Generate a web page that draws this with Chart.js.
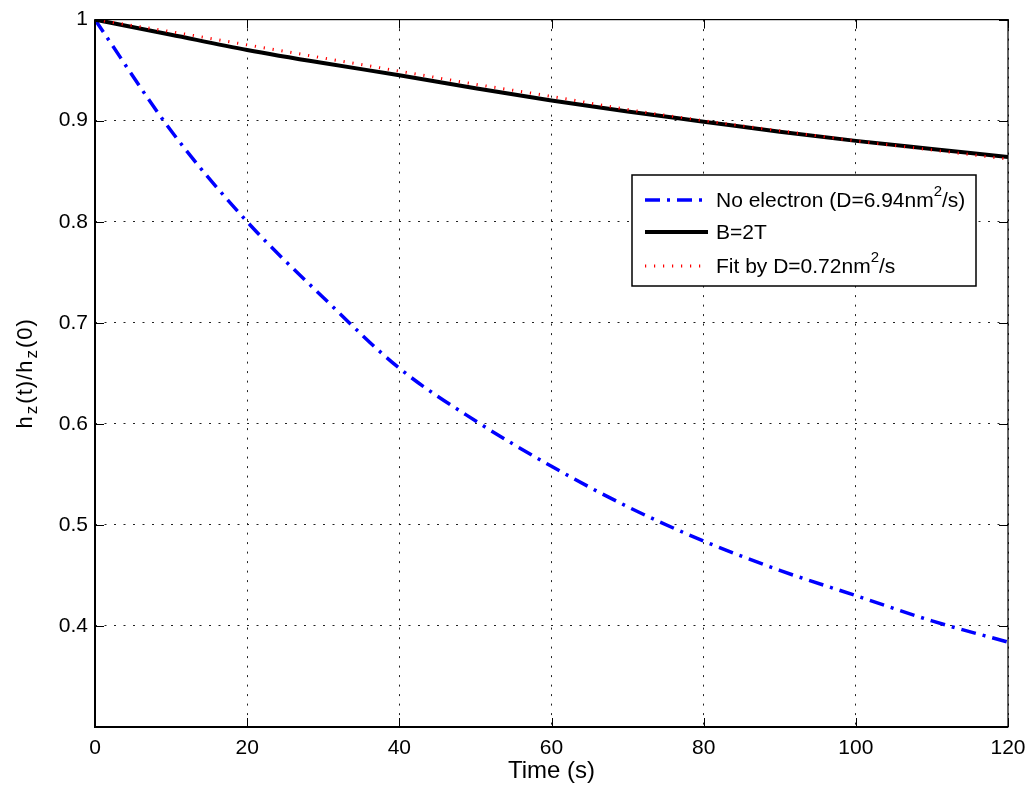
<!DOCTYPE html>
<html>
<head>
<meta charset="utf-8">
<script src="https://cdn.jsdelivr.net/npm/chart.js@4/dist/chart.umd.min.js"></script>
<style>
  html, body { margin: 0; padding: 0; background: #fff; }
  #wrap { width: 1036px; height: 787px; }
</style>
</head>
<body>
<div id="wrap"><canvas id="c" width="1036" height="787"></canvas></div>
<script>
// ---- data ----
const times      = [0, 10, 20, 30, 40, 50, 60, 70, 80, 90, 100, 110, 120];
const noElectron = [1.000, 0.890, 0.800, 0.725, 0.655, 0.603, 0.558, 0.518, 0.484, 0.455, 0.430, 0.405, 0.384];
const b2T        = [1.000, 0.985, 0.970, 0.957, 0.945, 0.932, 0.920, 0.909, 0.899, 0.889, 0.880, 0.872, 0.864];
const fitD       = [1.000, 0.988, 0.975, 0.962, 0.949, 0.936, 0.924, 0.911, 0.900, 0.890, 0.880, 0.871, 0.862];
const seriesLabels = ['No electron (D=6.94nm^2/s)', 'B=2T', 'Fit by D=0.72nm^2/s'];
const xTickValues = [0, 20, 40, 60, 80, 100, 120];
const yTickValues = [0.4, 0.5, 0.6, 0.7, 0.8, 0.9, 1.0];
const xTitle = 'Time (s)';
const yTitleParts = [['h',''], ['z','sub'], ['(t)/h',''], ['z','sub'], ['(0)','']];

const FONT = '"Liberation Sans", Arial, Helvetica, sans-serif';
const pts = arr => times.map((t, i) => ({ x: t, y: arr[i] }));

// draw text with superscript / subscript parts
function drawRich(ctx, parts, x, y, size, align, spacing, ratio) {
  spacing = spacing || 0; ratio = ratio || 0.68;
  const small = Math.round(size * ratio);
  const segW = [];
  let total = 0;
  parts.forEach(([s, k]) => {
    ctx.font = (k ? small : size) + 'px ' + FONT;
    const w = ctx.measureText(s).width + spacing * s.length + (k === 'sub' ? 2 : 0);
    segW.push(w); total += w;
  });
  let cx = align === 'center' ? x - total / 2 : x;
  parts.forEach(([s, k], i) => {
    ctx.font = (k ? small : size) + 'px ' + FONT;
    let dy = 0;
    if (k === 'sup') dy = -size * 0.42;
    if (k === 'sub') dy = size * 0.30;
    ctx.textAlign = 'left';
    let px = cx + (k === 'sub' ? 1 : 0);
    for (const ch of s) {
      ctx.fillText(ch, px, y + dy);
      px += ctx.measureText(ch).width + spacing;
    }
    cx += segW[i];
  });
}
function parseSup(label) {
  const out = [];
  const re = /\^(\w)/g; let last = 0, m;
  while ((m = re.exec(label))) {
    if (m.index > last) out.push([label.slice(last, m.index), '']);
    out.push([m[1], 'sup']); last = re.lastIndex;
  }
  if (last < label.length) out.push([label.slice(last), '']);
  return out;
}

const framePlugin = {
  id: 'frame',
  afterDraw(chart) {
    const { ctx, chartArea: a, scales } = chart;
    ctx.save();
    // inward tick marks on all four sides
    ctx.strokeStyle = '#000'; ctx.lineWidth = 1; ctx.setLineDash([]);
    const tl = 9;
    xTickValues.forEach(v => {
      const px = Math.round(scales.x.getPixelForValue(v)) + 0.5;
      ctx.beginPath();
      ctx.moveTo(px, a.bottom); ctx.lineTo(px, a.bottom - tl);
      ctx.moveTo(px, a.top); ctx.lineTo(px, a.top + tl);
      ctx.stroke();
    });
    yTickValues.forEach(v => {
      const py = Math.round(scales.y.getPixelForValue(v)) + 0.5;
      ctx.beginPath();
      ctx.moveTo(a.left, py); ctx.lineTo(a.left + tl, py);
      ctx.moveTo(a.right, py); ctx.lineTo(a.right - tl, py);
      ctx.stroke();
    });
    // frame
    ctx.strokeStyle = '#000';
    ctx.lineWidth = 1.2;
    ctx.strokeRect(a.left, a.top, a.right - a.left, a.bottom - a.top);
    ctx.lineWidth = 2;
    ctx.beginPath();
    ctx.moveTo(a.left, a.top); ctx.lineTo(a.left, a.bottom); ctx.lineTo(a.right, a.bottom);
    ctx.stroke();

    // y axis title with subscripts
    ctx.fillStyle = '#000';
    ctx.textBaseline = 'middle';
    ctx.translate(26, (a.top + a.bottom) / 2);
    ctx.rotate(-Math.PI / 2);
    drawRich(ctx, yTitleParts, 0, 0, 22, 'center', 1, 0.75);
    ctx.restore();

    // legend box
    ctx.save();
    const bx = 632, by = 175, bw = 344, bh = 111;
    ctx.fillStyle = '#fff';
    ctx.fillRect(bx, by, bw, bh);
    ctx.strokeStyle = '#000'; ctx.lineWidth = 1.5;
    ctx.strokeRect(bx, by, bw, bh);
    const rows = [200, 232, 266];
    chart.data.datasets.forEach((ds, i) => {
      const y = rows[i];
      ctx.strokeStyle = ds.borderColor;
      ctx.lineWidth = ds.borderWidth;
      ctx.setLineDash(ds.borderDash || []);
      ctx.lineCap = 'butt';
      ctx.beginPath(); ctx.moveTo(645, y); ctx.lineTo(708, y); ctx.stroke();
      ctx.setLineDash([]);
      ctx.fillStyle = '#000';
      ctx.textBaseline = 'middle';
      drawRich(ctx, parseSup(ds.label), 716, y + 1, 21, 'left', 0, 0.72);
    });
    ctx.restore();
  }
};

new Chart(document.getElementById('c'), {
  type: 'line',
  data: {
    datasets: [
      { label: seriesLabels[0], data: pts(noElectron), borderColor: '#0000ff', borderWidth: 3.5,
        borderDash: [15, 7, 3, 7], order: 3 },
      { label: seriesLabels[1], data: pts(b2T), borderColor: '#000000', borderWidth: 4, order: 2 },
      { label: seriesLabels[2], data: pts(fitD), borderColor: '#ff0000', borderWidth: 3,
        borderDash: [1.2, 7.8], order: 1 }
    ]
  },
  options: {
    responsive: false,
    animation: false,
    devicePixelRatio: 1,
    layout: { padding: { top: 18, right: 28, left: 0, bottom: 0 } },
    elements: {
      point: { radius: 0 },
      line: { cubicInterpolationMode: 'monotone', fill: false, borderCapStyle: 'butt' }
    },
    plugins: { legend: { display: false }, tooltip: { enabled: false } },
    scales: {
      x: {
        type: 'linear', min: 0, max: 120,
        afterBuildTicks: s => { s.ticks = xTickValues.map(v => ({ value: v })); },
        afterFit: s => { s.height = 60; },
        grid: { color: '#222', lineWidth: 1, drawTicks: false },
        border: { display: false, dash: [2, 7.5] },
        ticks: { color: '#000', padding: 9, font: { family: FONT, size: 21 }, maxRotation: 0,
                 callback: v => String(v) },
        title: { display: true, text: xTitle, color: '#000', font: { family: FONT, size: 24 },
                 padding: { top: 0, bottom: 1 } }
      },
      y: {
        min: 0.3, max: 1,
        afterBuildTicks: s => { s.ticks = yTickValues.map(v => ({ value: v })); },
        afterFit: s => { s.width = 95; },
        grid: { color: '#222', lineWidth: 1, drawTicks: false },
        border: { display: false, dash: [2, 7.5] },
        ticks: { color: '#000', padding: 7, font: { family: FONT, size: 21 },
                 callback: v => (Math.abs(v - 1) < 1e-9 ? '1' : Number(v).toFixed(1)) }
      }
    }
  },
  plugins: [framePlugin]
});
</script>
</body>
</html>
